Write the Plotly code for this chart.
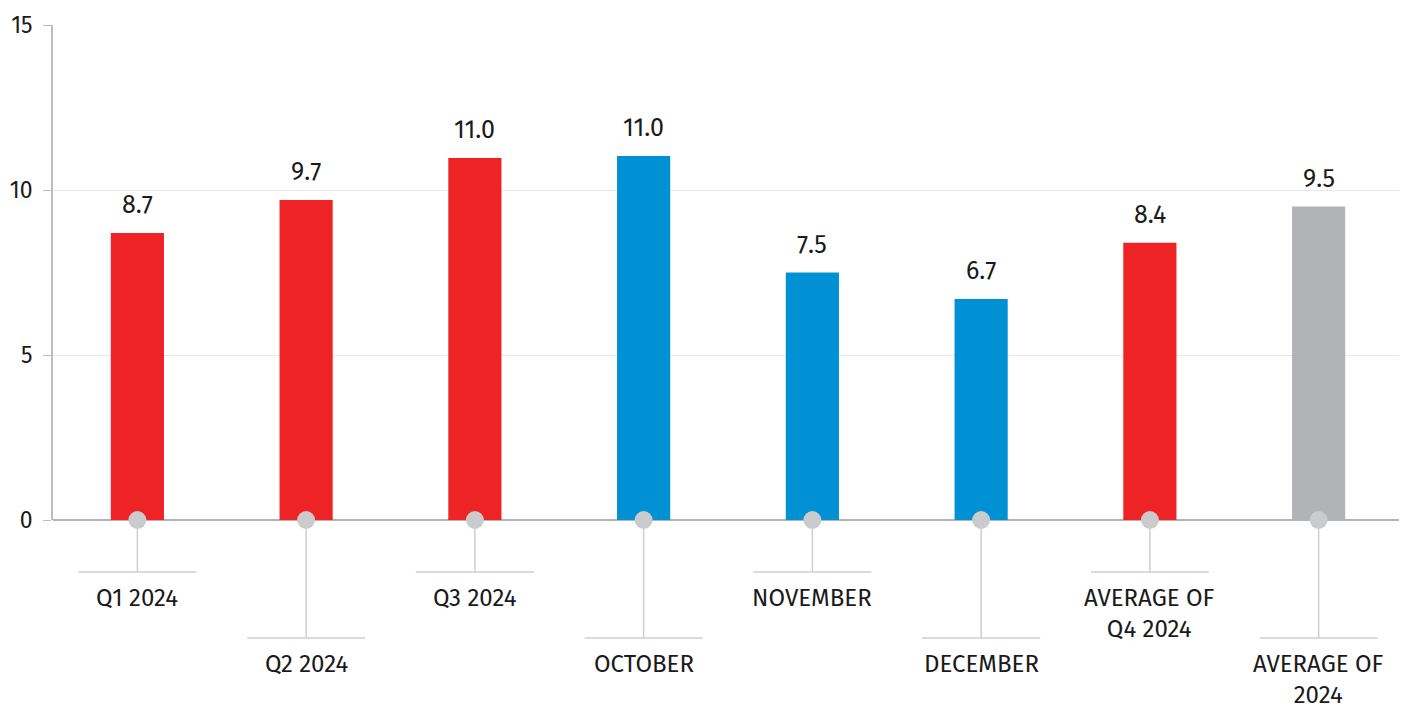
import plotly.graph_objects as go

categories = ["Q1 2024", "Q2 2024", "Q3 2024", "OCTOBER", "NOVEMBER", "DECEMBER",
              "AVERAGE OF<br>Q4 2024", "AVERAGE OF<br>2024"]
values = [8.7, 9.7, 10.97, 11.03, 7.5, 6.7, 8.4, 9.5]
labels = ["8.7", "9.7", "11.0", "11.0", "7.5", "6.7", "8.4", "9.5"]
colors = ["#EE2326", "#EE2326", "#EE2326", "#0091D5", "#0091D5", "#0091D5", "#EE2326", "#B1B3B6"]
y_ticks = [0, 5, 10, 15]

FONT = "Fira Sans, Noto Sans, Open Sans, sans-serif"
TXT = "#1a1a1a"
xs = list(range(len(categories)))

fig = go.Figure()
fig.add_trace(go.Bar(x=xs, y=values, marker=dict(color=colors, line=dict(width=0)),
                     width=0.315, hoverinfo="skip"))
fig.add_trace(go.Scatter(x=xs, y=[0] * len(xs), mode="markers",
                         marker=dict(size=18, color="#CACBCC"), cliponaxis=False,
                         hoverinfo="skip"))

PH = 495.0
for i, (c, v, t) in enumerate(zip(categories, values, labels)):
    fig.add_annotation(x=i, y=v, text=t, showarrow=False, yanchor="bottom",
                       yshift=11, font=dict(size=25, color=TXT, family=FONT))
    short = (i % 2 == 0)
    yend = -(52 if short else 118) / PH
    fig.add_shape(type="line", xref="x", yref="paper", x0=i, x1=i, y0=-9 / PH, y1=yend,
                  line=dict(color="#CFCFCF", width=1.5))
    fig.add_shape(type="line", xref="x", yref="paper", x0=i - 0.35, x1=i + 0.35,
                  y0=yend, y1=yend, line=dict(color="#CFCFCF", width=1.5))
    fig.add_annotation(x=i, xref="x", yref="paper", y=yend - 10 / PH, text=c,
                       showarrow=False, yanchor="top",
                       font=dict(size=24, color=TXT, family=FONT))

fig.update_layout(
    width=1399, height=699,
    margin=dict(l=45, r=4, t=17, b=187, autoexpand=False),
    plot_bgcolor="white", paper_bgcolor="white",
    showlegend=False,
    font=dict(family=FONT, color=TXT),
)
fig.update_xaxes(range=[-0.5, len(categories) - 0.5], showticklabels=False, showgrid=False,
                 zeroline=False, showline=False, fixedrange=True, automargin=False)
fig.update_yaxes(range=[0, 15], tickvals=y_ticks, showgrid=True, gridcolor="#E8E8E8",
                 gridwidth=1, zeroline=True, zerolinecolor="#B4B4B4", zerolinewidth=1.5,
                 showline=True, linecolor="#BDBDBD", linewidth=1.5, ticks="outside",
                 ticklen=8, tickcolor="#BDBDBD",
                 tickfont=dict(size=23, color=TXT),
                 ticklabelstandoff=6, automargin=False)

fig.write_html("out.html")
